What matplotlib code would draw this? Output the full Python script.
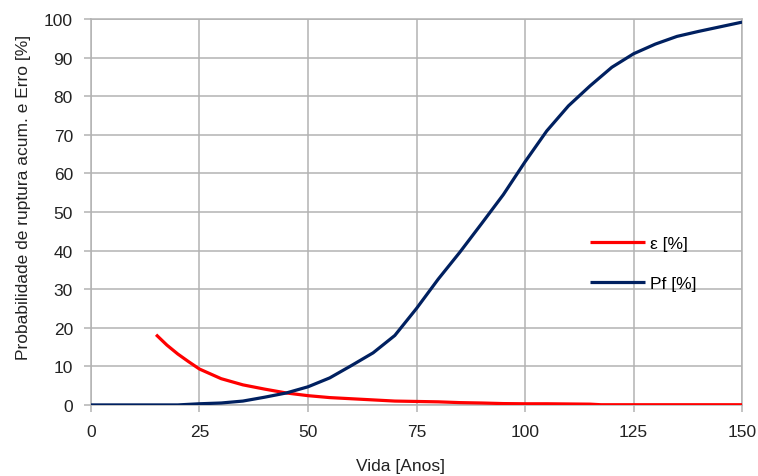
import matplotlib
matplotlib.use("Agg")
import matplotlib.pyplot as plt

plt.rcParams['font.family'] = ['Liberation Sans', 'DejaVu Sans']

# Cumulative failure probability Pf [%] versus life [years]
pf_years = [0, 5, 10, 15, 20, 25, 30, 35, 40, 45, 50, 55, 60, 65, 70, 75, 80,
            85, 90, 95, 100, 105, 110, 115, 120, 125, 130, 135, 140, 145, 150]
pf_values = [0, 0, 0, 0, 0, 0.3, 0.5, 1.0, 2.0, 3.1, 4.7, 7.0, 10.2, 13.5, 18.0,
             25.0, 32.6, 39.6, 47.0, 54.5, 63.0, 71.0, 77.5, 82.7, 87.5, 91.0,
             93.5, 95.5, 96.8, 98.0, 99.2]

# Error estimate ε [%] versus life [years]
eps_years = [15, 17.5, 20, 22.5, 25, 30, 35, 40, 45, 50, 55, 60, 65, 70, 75,
             80, 85, 90, 95, 100, 105, 110, 115, 117.5, 120, 130, 140, 150]
eps_values = [18.2, 15.5, 13.2, 11.2, 9.3, 6.8, 5.2, 4.1, 3.1, 2.4, 1.9, 1.6,
              1.3, 1.0, 0.9, 0.8, 0.6, 0.5, 0.35, 0.3, 0.3, 0.25, 0.2, 0.05,
              0.05, 0.05, 0.05, 0.05]

x_ticks = [0, 25, 50, 75, 100, 125, 150]
y_ticks = list(range(0, 101, 10))

fig = plt.figure(figsize=(7.58, 4.77), dpi=100)
ax = fig.add_axes([0.12, 0.149, 0.859, 0.809])

grid_col = '#b3b3b3'
text_col = '#222222'
fs = 12.5

ax.plot(eps_years, eps_values, color='#ff0000', lw=2.3, label='ε [%]',
        solid_capstyle='butt', zorder=3)
ax.plot(pf_years, pf_values, color='#002060', lw=2.3, label='Pf [%]',
        solid_capstyle='butt', zorder=3)

ax.set_xlim(0, 150)
ax.set_ylim(0, 100)
ax.set_xticks(x_ticks)
ax.set_yticks(y_ticks)
ax.grid(True, color=grid_col, lw=1.1)
ax.set_axisbelow(True)
for sp in ax.spines.values():
    sp.set_color(grid_col)
    sp.set_linewidth(1.1)
ax.tick_params(axis='both', colors=grid_col, labelcolor=text_col,
               labelsize=fs, length=5, width=1.1)
ax.tick_params(axis='x', pad=9)
ax.tick_params(axis='y', pad=8)

ax.set_xlabel('Vida [Anos]', fontsize=fs, color=text_col)
ax.xaxis.set_label_coords(0.476, -0.158)
ax.xaxis.label.set_va('center')
ax.set_ylabel('Probabilidade de ruptura acum. e Erro [%]', fontsize=fs,
              color=text_col)
ax.yaxis.set_label_coords(-0.104, 0.541)
ax.yaxis.label.set_va('center')

ax.legend(loc='upper left', bbox_to_anchor=(0.755, 0.457), frameon=False,
          fontsize=fs, handlelength=3.2, handletextpad=0.3, labelspacing=1.45,
          borderaxespad=0)

fig.savefig('out.png', dpi=100)
